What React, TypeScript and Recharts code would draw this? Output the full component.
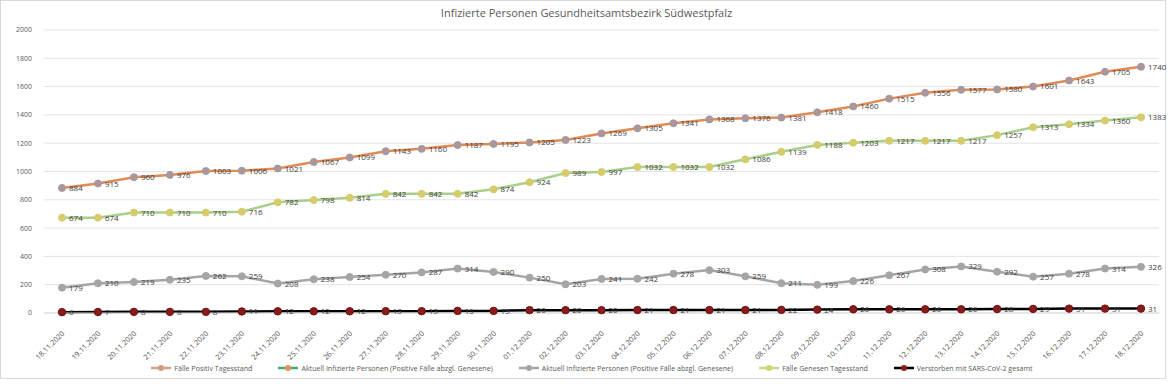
import React from "react";
import { LineChart, Line, XAxis, YAxis, CartesianGrid, LabelList } from "recharts";

const dates = [
  "18.11.2020","19.11.2020","20.11.2020","21.11.2020","22.11.2020","23.11.2020","24.11.2020","25.11.2020",
  "26.11.2020","27.11.2020","28.11.2020","29.11.2020","30.11.2020","01.12.2020","02.12.2020","03.12.2020",
  "04.12.2020","05.12.2020","06.12.2020","07.12.2020","08.12.2020","09.12.2020","10.12.2020","11.12.2020",
  "12.12.2020","13.12.2020","14.12.2020","15.12.2020","16.12.2020","17.12.2020","18.12.2020",
];
const positiv = [884,915,960,976,1003,1006,1021,1067,1099,1143,1160,1187,1195,1205,1223,1269,1305,1341,1368,1376,1381,1418,1460,1515,1556,1577,1580,1601,1643,1705,1740];
const genesen = [674,674,710,710,710,716,782,798,814,842,842,842,874,924,989,997,1032,1032,1032,1086,1139,1188,1203,1217,1217,1217,1257,1313,1334,1360,1383];
const aktuell = [179,210,219,235,262,259,208,238,254,270,287,314,290,250,203,241,242,278,303,259,211,199,226,267,308,329,292,257,278,314,326];
const verstorben = [6,7,8,8,8,11,12,12,12,13,13,15,15,20,20,20,21,21,21,21,22,24,26,26,26,26,28,29,31,31,31];
const yTicks = [0,200,400,600,800,1000,1200,1400,1600,1800,2000];

const title = "Infizierte Personen Gesundheitsamtsbezirk Südwestpfalz";
const legendItems = [
  { name: "Fälle Positiv Tagesstand", line: "#D4A288", dot: "#D09A7E" },
  { name: "Aktuell Infizierte Personen (Positive Fälle abzgl. Genesene)", line: "#3FAF7C", dot: "#E39152" },
  { name: "Aktuell Infizierte Personen (Positive Fälle abzgl. Genesene)", line: "#A5A5A5", dot: "#A5A5A5" },
  { name: "Fälle Genesen Tagesstand", line: "#CBD98F", dot: "#D6D36B" },
  { name: "Verstorben mit SARS-CoV-2 gesamt", line: "#000000", dot: "#8B1A1A" },
];

const data = dates.map((d, i) => ({
  date: d,
  positiv: positiv[i],
  genesen: genesen[i],
  aktuell: aktuell[i],
  verstorben: verstorben[i],
}));

const FONT = "'Open Sans', 'DejaVu Sans', sans-serif";

const XTick = (props: any) => {
  const { x, y, payload } = props;
  const tx = x + 3;
  const ty = y + 13;
  return (
    <text
      x={tx}
      y={ty}
      transform={`rotate(-45 ${tx} ${ty})`}
      textAnchor="end"
      fontSize={7.3}
      fill="#505050"
      fontFamily={FONT}
    >
      {payload.value}
    </text>
  );
};

const ValueLabel = (props: any) => {
  const { x, y, value } = props;
  return (
    <text x={x + 7} y={y + 3} fontSize={8} fill="#404040" stroke="none" fontFamily={FONT}>
      {value}
    </text>
  );
};

export default function App() {
  return (
    <div style={{ position: "absolute", left: 0, top: 0, width: 1173, height: 384, background: "#ffffff" }}>
      <div
        style={{
          position: "absolute",
          left: 0,
          top: 0,
          width: 1166,
          height: 379,
          border: "1px solid #d9d9d9",
          boxSizing: "border-box",
        }}
      />
      <div
        style={{
          position: "absolute",
          left: 0,
          top: 5,
          width: 1173,
          textAlign: "center",
          fontFamily: FONT,
          fontSize: 11,
          color: "#595959",
        }}
      >
        {title}
      </div>
      <div style={{ position: "absolute", left: 0, top: 0 }}>
        <LineChart width={1173} height={384} data={data} margin={{ top: 30, right: 14, bottom: 0, left: 0 }}>
          <CartesianGrid vertical={false} stroke="#e3e3e3" strokeWidth={1} />
          <XAxis
            dataKey="date"
            interval={0}
            height={71}
            tickLine={false}
            axisLine={{ stroke: "#d9d9d9", strokeWidth: 1 }}
            tick={<XTick />}
            padding={{ left: 18, right: 18 }}
          />
          <YAxis
            width={44}
            domain={[0, 2000]}
            ticks={yTicks}
            tickLine={false}
            axisLine={false}
            tickSize={0}
            tickMargin={12}
            tick={{ fontSize: 7, fill: "#595959", fontFamily: FONT }}
          />
          <Line
            dataKey="positiv"
            stroke="#E08A54"
            strokeWidth={2.5}
            dot={{ r: 3.5, fill: "#A8979D", stroke: "#A8979D", strokeWidth: 1 }}
            isAnimationActive={false}
          >
            <LabelList dataKey="positiv" content={<ValueLabel />} />
          </Line>
          <Line
            dataKey="genesen"
            stroke="#A9CF8A"
            strokeWidth={2.5}
            dot={{ r: 3.5, fill: "#D6CC6C", stroke: "#D6CC6C", strokeWidth: 1 }}
            isAnimationActive={false}
          >
            <LabelList dataKey="genesen" content={<ValueLabel />} />
          </Line>
          <Line
            dataKey="aktuell"
            stroke="#A5A5A5"
            strokeWidth={2.5}
            dot={{ r: 3.5, fill: "#A5A5A5", stroke: "#A5A5A5", strokeWidth: 1 }}
            isAnimationActive={false}
          >
            <LabelList dataKey="aktuell" content={<ValueLabel />} />
          </Line>
          <Line
            dataKey="verstorben"
            stroke="#000000"
            strokeWidth={2.5}
            dot={{ r: 3.7, fill: "#8B1A1A", stroke: "#6a1010", strokeWidth: 1 }}
            isAnimationActive={false}
          >
            <LabelList dataKey="verstorben" content={<ValueLabel />} />
          </Line>
        </LineChart>
      </div>
      <div
        style={{
          position: "absolute",
          left: 0,
          top: 363,
          width: 1184,
          display: "flex",
          justifyContent: "center",
          gap: 26,
          fontFamily: FONT,
          fontSize: 7.1,
          color: "#595959",
          whiteSpace: "nowrap",
        }}
      >
        {legendItems.map((it, i) => (
          <div key={i} style={{ display: "flex", alignItems: "center" }}>
            <svg width={20} height={10} style={{ marginRight: 3 }}>
              <line x1={0} y1={5} x2={20} y2={5} stroke={it.line} strokeWidth={2.5} />
              <circle cx={10} cy={5} r={3} fill={it.dot} />
            </svg>
            <span>{it.name}</span>
          </div>
        ))}
      </div>
    </div>
  );
}
